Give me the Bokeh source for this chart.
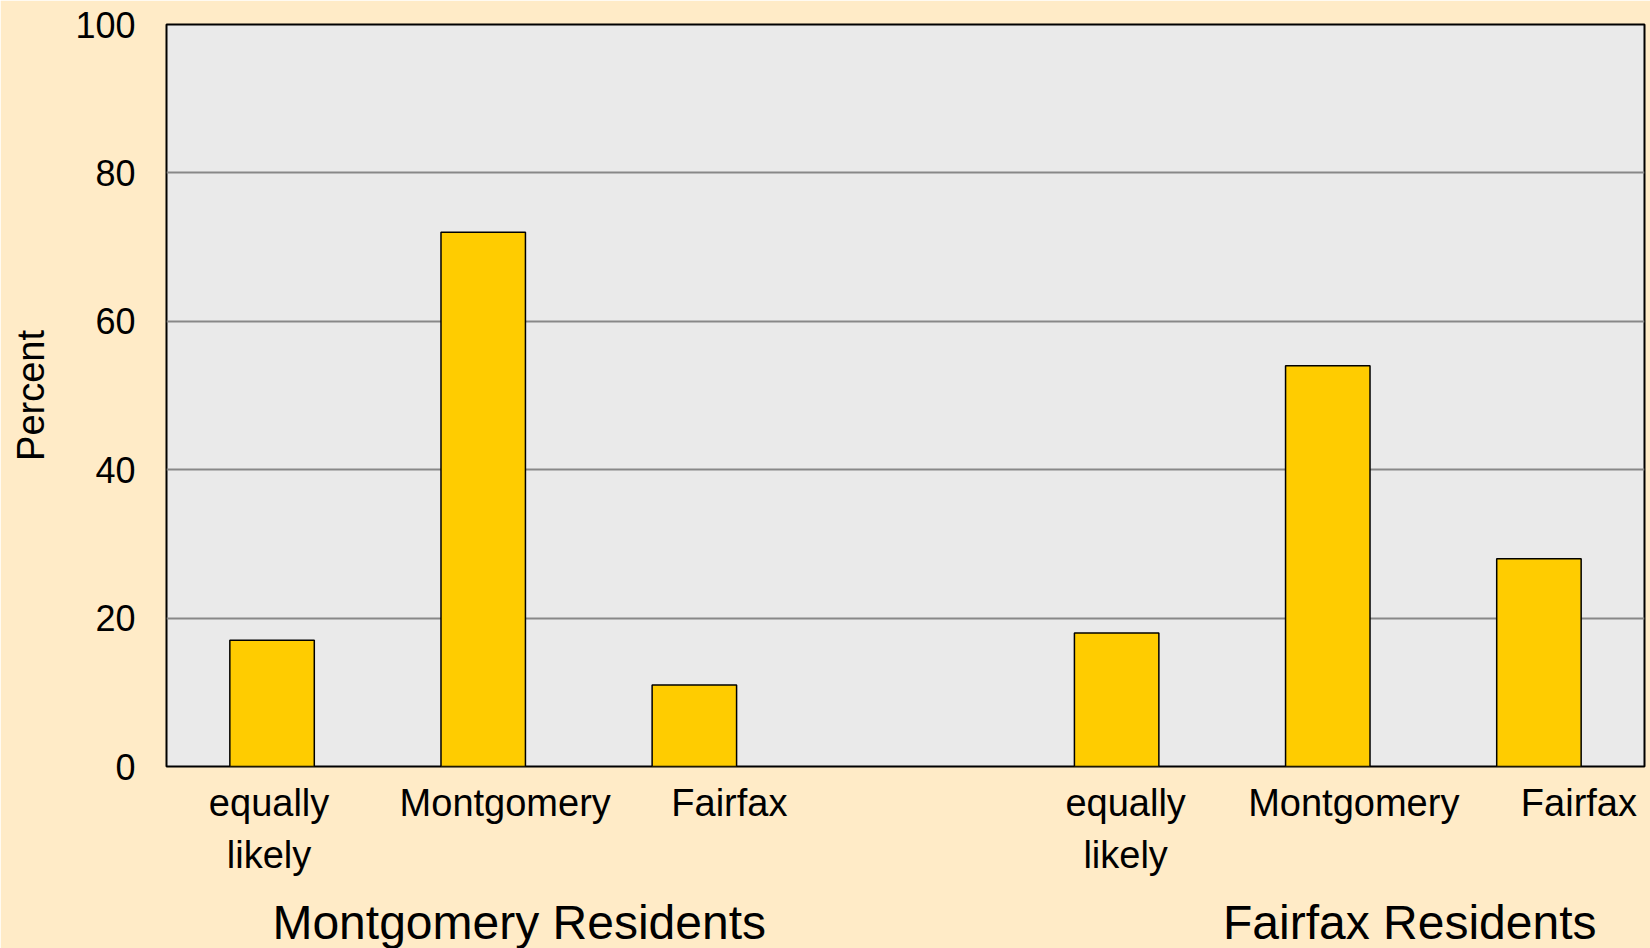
from bokeh.plotting import figure
from bokeh.models import Range1d, FixedTicker, LinearAxis, ColumnDataSource
from bokeh.embed import file_html
from bokeh.resources import INLINE

# ---- data ----
groups = ["Montgomery Residents", "Fairfax Residents"]
categories = ["equally\nlikely", "Montgomery", "Fairfax"]
montgomery_residents = [17, 72, 11]
fairfax_residents = [18, 54, 28]
y_ticks = [0, 20, 40, 60, 80, 100]

# ---- style ----
FONT = "Liberation Sans"
BG = "#FFEBC7"
PLOT_BG = "#EAEAEA"
BAR = "#FFCC00"
FRAME_W, FRAME_H = 1478, 742
# small horizontal nudges of the labels (screen px), as in the reference
sub_label_nudge = [[-3, 22, 35], [9, 26, 40]]
group_label_nudge = [36, 82]

series = [montgomery_residents, fairfax_residents]
n = len(categories)
slots = len(groups) * n + (len(groups) - 1)
px_per_unit = FRAME_W / slots

xs, tops = [], []
for g, vals in enumerate(series):
    for i, v in enumerate(vals):
        xs.append(g * (n + 1) + i + 0.5)
        tops.append(v)
src = ColumnDataSource(dict(x=xs, top=tops))

p = figure(
    width=1650, height=948,
    frame_width=FRAME_W, frame_height=FRAME_H,
    min_border_left=166, min_border_right=6, min_border_top=24, min_border_bottom=182,
    x_range=Range1d(0, slots), y_range=Range1d(0, 100),
    x_axis_location=None,
    output_backend="svg", toolbar_location=None, tools="",
)
p.background_fill_color = PLOT_BG
p.border_fill_color = BG
p.outline_line_color = "black"
p.outline_line_width = 2

p.vbar(x="x", top="top", width=0.4, bottom=0, source=src,
       fill_color=BAR, line_color="black", line_width=1.5)

p.xgrid.visible = False
p.ygrid.grid_line_color = "#888888"
p.ygrid.grid_line_width = 2

ya = p.yaxis[0]
ya.ticker = FixedTicker(ticks=y_ticks)
ya.axis_line_color = None
ya.major_tick_line_color = None
ya.minor_tick_line_color = None
ya.major_tick_out = 0
ya.major_tick_in = 0
ya.major_label_standoff = 31
ya.major_label_text_font = FONT
ya.major_label_text_font_size = "36px"
ya.major_label_text_color = "black"
ya.axis_label = "Percent"
ya.axis_label_text_font = FONT
ya.axis_label_text_font_size = "38px"
ya.axis_label_text_font_style = "normal"
ya.axis_label_text_color = "black"
ya.axis_label_standoff = 20

# category axis (below)
cat_ticks, cat_over = [], {}
for g in range(len(groups)):
    for i, cat in enumerate(categories):
        t = g * (n + 1) + i + 0.5 + sub_label_nudge[g][i] / px_per_unit
        cat_ticks.append(t)
        cat_over[t] = cat
grp_ticks, grp_over = [], {}
for g, gname in enumerate(groups):
    t = g * (n + 1) + n / 2 + group_label_nudge[g] / px_per_unit
    grp_ticks.append(t)
    grp_over[t] = gname


def styled_axis(ticks, over, size, standoff, line_height):
    ax = LinearAxis(ticker=FixedTicker(ticks=ticks), major_label_overrides=over)
    ax.axis_line_color = None
    ax.major_tick_line_color = None
    ax.minor_tick_line_color = None
    ax.major_tick_out = 0
    ax.major_tick_in = 0
    ax.major_label_standoff = standoff
    ax.major_label_text_font = FONT
    ax.major_label_text_font_size = size
    ax.major_label_text_color = "black"
    ax.major_label_text_line_height = line_height
    return ax


p.add_layout(styled_axis(cat_ticks, cat_over, "38px", 15, 1.24), "below")
p.add_layout(styled_axis(grp_ticks, grp_over, "48px", 17, 1.0), "below")

open("out.html", "w").write(file_html(p, INLINE))
